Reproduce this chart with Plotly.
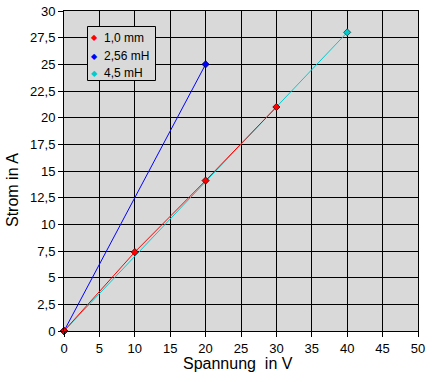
import plotly.graph_objects as go

x_mm = [0, 10, 20, 30]
y_mm = [0, 7.4, 14.1, 21]
x_256 = [0, 20]
y_256 = [0, 25]
x_45 = [0, 40]
y_45 = [0, 28]

names = ["1,0 mm", "2,56 mH", "4,5 mH"]
colors = ["#FF0000", "#0000FF", "#00CCCC"]

x_ticks = [0, 5, 10, 15, 20, 25, 30, 35, 40, 45, 50]
x_ticktext = ["0", "5", "10", "15", "20", "25", "30", "35", "40", "45", "50"]
y_ticks = [0, 2.5, 5, 7.5, 10, 12.5, 15, 17.5, 20, 22.5, 25, 27.5, 30]
y_ticktext = ["0", "2,5", "5", "7,5", "10", "12,5", "15", "17,5", "20", "22,5", "25", "27,5", "30"]
x_title = "Spannung&nbsp; in V"
y_title = "Strom in A"

FONT = "Arial, Liberation Sans, sans-serif"

fig = go.Figure()
series = [(x_45, y_45, 2, "#204040"), (x_256, y_256, 1, "#000040"), (x_mm, y_mm, 0, "#400000")]
for xs, ys, i, edge in series:
    fig.add_trace(go.Scatter(x=xs, y=ys, name=names[i], mode="lines+markers",
                             line=dict(color=colors[i], width=1),
                             marker=dict(symbol="diamond", size=5.5, color=colors[i],
                                         line=dict(color=edge, width=0.8)),
                             showlegend=False, cliponaxis=False))

axis_common = dict(showline=True, linecolor="black", linewidth=1, mirror=True,
                   showgrid=True, gridcolor="black", gridwidth=1,
                   zeroline=False, ticks="outside", ticklen=5, tickcolor="black",
                   automargin=False,
                   tickfont=dict(family=FONT, size=13, color="black"))

fig.update_xaxes(range=[0, 50], tickvals=x_ticks, ticktext=x_ticktext, **axis_common)
fig.update_yaxes(range=[0, 30], tickvals=y_ticks, ticktext=y_ticktext, **axis_common)

W, H = 435, 382
PL, PT, PW, PH = 64, 11, 354, 320
def px(x):
    return (x - PL) / PW
def py(y):
    return 1 - (y - PT) / PH

# axis titles
fig.add_annotation(xref="paper", yref="paper", x=px(237.5), y=py(363),
                   text=x_title, showarrow=False, xanchor="center", yanchor="middle",
                   font=dict(family=FONT, size=16, color="black"))
fig.add_annotation(xref="paper", yref="paper", x=px(12), y=py(190),
                   text=y_title, showarrow=False, xanchor="center", yanchor="middle",
                   textangle=-90, font=dict(family=FONT, size=16, color="black"))

# legend box
fig.add_shape(type="rect", xref="paper", yref="paper",
              x0=px(87.5), x1=px(155.5), y0=py(80.5), y1=py(26.5),
              line=dict(color="black", width=1), fillcolor="#D9D9D9", layer="above")
item_y = [38, 56, 73]
for i in range(3):
    fig.add_annotation(xref="paper", yref="paper", x=px(94), y=py(item_y[i]),
                       text="◆", showarrow=False, xanchor="center", yanchor="middle",
                       font=dict(family="DejaVu Sans", size=8, color=colors[i]))
    fig.add_annotation(xref="paper", yref="paper", x=px(102), y=py(item_y[i]),
                       text=names[i], showarrow=False, xanchor="left", yanchor="middle",
                       font=dict(family=FONT, size=12, color="black"))

fig.update_layout(
    width=W, height=H,
    margin=dict(l=PL, r=W - PL - PW, t=PT, b=H - PT - PH),
    paper_bgcolor="white", plot_bgcolor="#D9D9D9",
    font=dict(family=FONT, size=12, color="black"),
    showlegend=False,
)

fig.write_html("out.html", config={"displayModeBar": False},
               post_script="document.body.style.margin='0';")
